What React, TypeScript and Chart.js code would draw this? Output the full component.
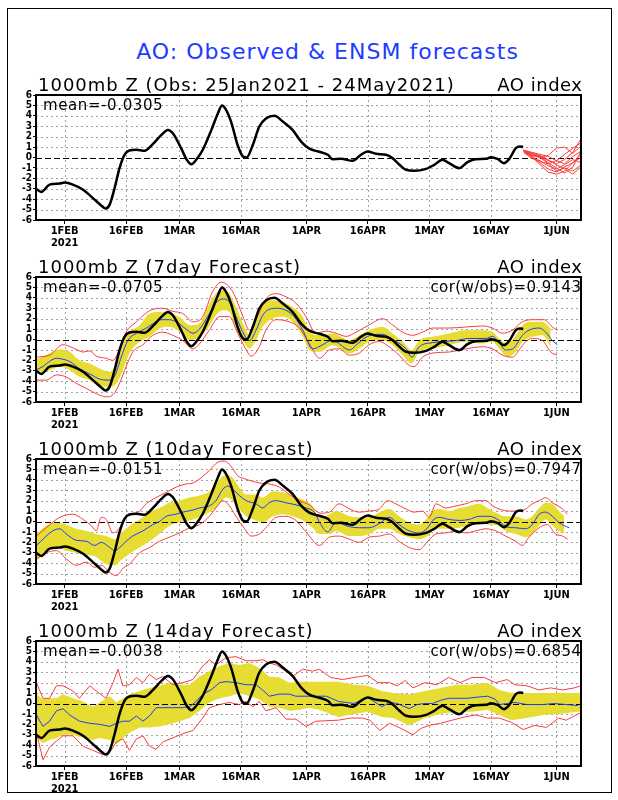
import React, { useEffect, useRef } from "react";
import { Chart, registerables } from "chart.js";
Chart.register(...registerables);

const FONT = "'DejaVu Sans', 'Liberation Sans', sans-serif";
const TICK_FONT = "'DejaVu Sans Condensed', 'Liberation Sans Narrow', 'DejaVu Sans', sans-serif";
const BLUE = "rgb(30,60,255)";
const RED = "rgb(250,60,60)";
const YELLOW = "rgb(230,220,50)";
const GRAY = "rgb(160,160,160)";

// x axis: days since 25 Jan 2021
const xMin = 0;
const xMax = 133;
const xTickDays = [7, 22, 35, 50, 66, 81, 96, 111, 127];
const xTickLabels = ["1FEB", "16FEB", "1MAR", "16MAR", "1APR", "16APR", "1MAY", "16MAY", "1JUN"];
const yearLabel = "2021";

// observed AO
const obsDays = [0, 1.3, 3.3, 5.8, 7, 9, 11.5, 13.9, 15.9, 17, 18, 19.2, 20.4, 21.6, 22.8, 24.5, 26.5, 28.5, 30.6, 32.2, 33.4, 35.4, 36.8, 37.9, 39.1, 40.7, 42.8, 44.4, 45.4, 46.2, 47.6, 49.2, 50.5, 51.4, 52.9, 54.5, 56.2, 58.2, 60.2, 62.6, 64.7, 66.7, 69.1, 71.2, 72.4, 74.4, 77.3, 79.3, 80.9, 83, 85.4, 87, 88.7, 90.3, 92.3, 95.2, 97.2, 99.2, 100.8, 103.3, 105.3, 107.3, 109.8, 111, 112.6, 114.2, 115.5, 117.1, 118.1, 118.9];
const obsVals = [-3.0, -3.3, -2.6, -2.5, -2.4, -2.6, -3.1, -3.9, -4.6, -4.9, -4.5, -2.9, -1.0, 0.26, 0.67, 0.74, 0.64, 1.28, 2.17, 2.65, 2.33, 0.9, -0.22, -0.64, -0.22, 0.74, 2.65, 4.25, 5.0, 4.7, 3.45, 1.2, 0.1, 0.0, 1.2, 2.97, 3.77, 4.0, 3.45, 2.65, 1.53, 0.85, 0.55, 0.26, -0.16, -0.13, -0.32, 0.26, 0.58, 0.35, 0.26, -0.06, -0.7, -1.18, -1.28, -1.09, -0.7, -0.22, -0.54, -1.02, -0.45, -0.16, -0.13, 0.03, -0.13, -0.54, -0.13, 0.9, 1.06, 1.0];

// panel 1 ensemble members (spaghetti)
const spagDays = [119, 121, 123, 125, 127, 129, 131, 133];
const spag1 = [0.7, 0.4, 0.1, -0.3, -0.6, -0.2, 0.5, 1.8];
const spag2 = [0.7, 0.2, 0.0, 0.2, 0.9, 1.0, 0.4, 1.1];
const spag3 = [0.6, 0.0, -0.5, -1.1, -1.4, -0.9, -0.5, 0.3];
const spag4 = [0.6, 0.1, -0.7, -1.4, -1.6, -1.3, -0.5, 0.0];
const spag5 = [0.7, 0.4, 0.2, -0.2, -0.7, -1.1, -1.6, -0.9];
const spag6 = [0.6, 0.2, 0.1, -0.5, -1.0, -1.5, -0.9, 0.6];
const spag7 = [0.7, 0.3, 0.0, -0.6, -0.3, 0.3, 0.9, 1.4];
const spag8 = [0.5, -0.1, -0.3, -0.8, -1.1, -0.7, -0.2, -0.5];
const spag9 = [0.7, 0.5, 0.3, 0.1, -0.3, -0.6, 0.1, 0.6];
const spag10 = [0.6, 0.1, -0.4, -0.6, -1.3, -1.0, -1.3, -0.7];
const spagMembers = [spag1, spag2, spag3, spag4, spag5, spag6, spag7, spag8, spag9, spag10];

// panel 2: 7-day forecast
const p2BandDays = [0.1, 3.3, 5.8, 8.2, 10.6, 13.1, 15.5, 18, 19.6, 21.2, 22.8, 25.3, 27.7, 30.1, 32.6, 35, 37.5, 39.9, 41.9, 43.9, 45.6, 47.2, 48.8, 50.9, 52.1, 53.7, 55.3, 57.8, 60.2, 62.6, 65.1, 66.7, 69.2, 72.4, 76.5, 78.9, 81.3, 84.6, 87, 89.5, 91.7, 93.5, 96.8, 100.8, 104.9, 109, 111.4, 113, 115.1, 117.1, 118.7, 121.1, 123.6, 125.6];
const p2BandHi = [-1.92, -1.34, -0.93, -1.18, -1.98, -2.3, -2.78, -3.1, -2.3, -0.38, 0.74, 1.38, 2.5, 2.65, 2.5, 2.18, 1.38, 1.54, 3.13, 4.41, 4.73, 4.41, 3.13, 1.22, 0.42, 1.86, 3.3, 3.77, 3.61, 3.13, 2.18, 0.74, 0.42, 0.58, -0.06, 0.42, 0.9, 1.22, 0.58, -0.22, -1.02, -0.06, 0.26, 0.58, 0.9, 0.9, 0.74, 0.1, -0.38, 0.42, 1.38, 1.7, 1.7, 1.06];
const p2BandLo = [-3.1, -2.94, -2.62, -2.94, -3.58, -3.9, -4.48, -4.54, -4.22, -2.94, -1.34, -0.22, 0.26, 1.06, 1.22, 0.74, -0.06, 0.26, 1.06, 2.34, 2.82, 2.66, 1.06, -0.38, -0.86, -0.06, 1.22, 2.02, 2.18, 1.7, 0.26, -1.02, -1.18, -0.54, -1.34, -0.86, -0.22, -0.06, -0.54, -1.5, -2.3, -1.18, -0.86, -0.54, -0.22, -0.38, -0.22, -0.86, -1.66, -1.18, -0.22, 0.26, 0.42, -0.7];
const p2MeanDays = [0.1, 1.7, 3.3, 5, 6.6, 8.2, 10.6, 13.1, 15.5, 17.6, 19.2, 20.8, 22.4, 24.5, 26.5, 28.5, 30.5, 32.6, 34.6, 36.6, 38.3, 39.9, 41.9, 43.9, 45.6, 47.2, 48.8, 50.9, 52.1, 53.7, 55.3, 56.9, 59, 61, 63, 65.1, 67.5, 70, 72, 73.2, 76.5, 78.5, 80.9, 84.6, 86.6, 90.3, 91.7, 93.5, 96.8, 99.2, 102.5, 105.7, 109.8, 111.4, 113, 114.6, 116.3, 118.7, 120.3, 122.8, 124.4, 126, 127.2];
const p2Mean = [-2.9, -2.6, -2.1, -1.8, -1.9, -2.1, -2.8, -3.3, -3.8, -3.9, -3.5, -1.7, -0.1, 0.6, 1.0, 1.5, 1.9, 1.9, 1.6, 1.0, 0.6, 1.0, 2.2, 3.5, 3.9, 3.6, 2.2, 0.4, -0.1, 0.9, 2.3, 2.9, 3.0, 2.8, 2.2, 0.9, -0.9, -0.5, -0.1, -0.2, -1.0, -0.4, 0.3, 0.5, 0.1, -0.9, -1.7, -0.7, -0.3, -0.2, -0.1, 0.1, 0.1, 0.3, -0.3, -1.0, -0.9, 0.4, 0.9, 1.1, 0.7, -0.1, -0.5];
const p2MaxDays = [0.1, 3.3, 6.6, 9, 11.5, 13.1, 14.7, 17.1, 18.8, 20.4, 22, 24.5, 28.5, 30.9, 33.4, 35.8, 38.3, 40.7, 43.1, 45.2, 46.8, 48.4, 50.5, 52.1, 53.7, 56.1, 58.6, 61, 63.4, 65.9, 68.3, 70.8, 73.2, 75.7, 78.1, 81.3, 84.6, 87, 89.5, 91.9, 94.3, 96.8, 100.8, 104.9, 109, 111.4, 113.8, 116.3, 118.7, 121.1, 124, 126, 127.2];
const p2Max = [-1.7, -1.5, -0.5, -0.8, -1.2, -1.1, -1.6, -1.8, -2.0, -0.9, 0.7, 1.7, 2.9, 3.0, 2.7, 2.5, 1.7, 2.2, 4.6, 5.5, 5.2, 4.3, 2.2, 0.9, 1.9, 3.9, 4.4, 4.1, 3.5, 2.2, 0.6, 0.8, 0.6, 0.3, 0.7, 1.4, 2.0, 1.4, 0.7, 0.4, 0.7, 1.1, 1.1, 1.2, 1.3, 1.1, 0.6, 0.9, 1.7, 1.9, 1.9, 1.2, 0.9];
const p2MinDays = [0.1, 2.5, 5, 7.4, 9.8, 12.3, 14.7, 17.1, 18.8, 20.4, 22, 23.6, 26.1, 28.5, 30.9, 33.4, 35.8, 38.3, 39.9, 42.3, 44.8, 47.2, 49.2, 51.3, 52.5, 54.5, 56.1, 58.6, 61.8, 64.3, 66.7, 69.2, 71.6, 74, 76.5, 78.9, 81.3, 83.8, 86.2, 88.6, 91.1, 92.3, 94.3, 96.8, 100.8, 104.9, 109, 111.4, 113.8, 116.3, 117.9, 119.5, 121.1, 123.6, 125.6, 127.2];
const p2Min = [-3.9, -3.9, -3.4, -3.6, -4.2, -4.7, -5.2, -5.5, -5.3, -4.2, -2.6, -1.2, -0.5, 0.4, 0.7, 0.4, -0.1, -0.9, -0.4, 0.9, 2.2, 2.2, 0.6, -1.0, -1.6, -0.7, 0.9, 1.9, 1.7, 1.1, -0.4, -1.8, -1.0, -0.9, -1.5, -1.3, -0.5, -0.2, -0.7, -1.5, -2.5, -2.6, -1.7, -1.3, -1.2, -0.9, -0.7, -0.9, -1.5, -1.7, -1.0, -0.2, 0.1, -0.1, -1.2, -1.5];

// panel 3: 10-day forecast
const p3BandDays = [0.1, 2.5, 5, 7.4, 9.8, 12.3, 14.7, 17.1, 19.2, 20.8, 22.8, 25.3, 27.7, 30.1, 32.6, 35, 37.5, 39.9, 42.3, 44.4, 46.4, 48, 49.6, 51.3, 53.7, 55.3, 57.8, 60.2, 62.6, 65.1, 67.5, 69.2, 71.6, 73.2, 76.5, 78.9, 81.3, 83.8, 86.2, 88.6, 91.1, 93.5, 95.6, 96.8, 98.4, 100.8, 103.3, 105.7, 108.1, 110.6, 113, 114.6, 117.1, 119.5, 121.1, 122.8, 124.4, 126, 127.6, 128.9];
const p3BandHi = [-1.2, -0.4, -0.1, -0.3, -0.7, -0.9, -1.2, -1.4, -1.7, -1.1, -0.4, 0.2, 0.9, 1.3, 1.8, 2.0, 2.3, 2.5, 2.9, 3.9, 4.5, 4.2, 3.3, 2.6, 2.6, 2.3, 2.9, 2.8, 2.5, 2.1, 1.5, 0.4, 0.7, 1.0, 0.5, 0.4, 0.4, 0.9, 1.2, 0.5, -0.1, -0.3, 0.4, 1.0, 1.2, 1.0, 1.3, 1.5, 1.7, 1.2, 0.7, 0.5, 0.5, 0.2, 0.5, 1.3, 1.8, 1.7, 1.0, 0.5];
const p3BandLo = [-3.8, -2.8, -2.5, -2.8, -3.0, -3.2, -3.4, -4.1, -4.2, -3.7, -3.1, -2.5, -1.9, -1.2, -0.4, -0.1, 0.1, 0.4, 0.9, 1.5, 2.3, 2.0, 1.2, 0.5, 0.1, -0.1, 0.5, 0.7, 0.5, 0.1, -0.6, -1.2, -1.2, -0.9, -1.4, -1.4, -1.2, -0.7, -0.7, -1.2, -1.5, -1.7, -1.4, -0.9, -0.7, -0.7, -0.6, -0.3, -0.1, -0.3, -0.4, -0.9, -1.2, -1.5, -1.2, -0.4, 0.2, -0.4, -0.9, -1.1];
const p3MeanDays = [0.1, 4.1, 5.8, 7.4, 9.8, 12.3, 14.3, 15.9, 18, 19.2, 20.4, 22, 23.6, 26.1, 28.5, 30.1, 31.8, 34.2, 35.8, 38.3, 39.9, 42.3, 43.9, 45.6, 46.8, 48, 49.6, 51.3, 53.7, 55.3, 56.9, 58.6, 61, 63.4, 65.9, 67.9, 69.5, 71.2, 73.2, 76.5, 78.9, 81.3, 83.8, 86.2, 88.6, 91.1, 93.5, 95.6, 96.8, 98.4, 100.8, 103.3, 105.7, 108.1, 110.6, 113, 114.6, 117.1, 119.5, 121.1, 122.8, 124.4, 126, 127.6, 128.9, 130.1];
const p3Mean = [-2.3, -0.9, -0.7, -1.2, -1.8, -1.9, -2.3, -2.0, -2.5, -2.8, -2.5, -1.9, -1.4, -0.9, -0.3, 0.0, 0.5, 0.7, 0.9, 1.1, 1.3, 1.5, 2.0, 3.1, 3.4, 3.1, 2.5, 2.0, 1.7, 1.3, 1.8, 2.0, 1.8, 1.6, 1.3, 0.9, -0.3, -1.0, -0.1, -0.5, -0.6, -0.6, -0.2, 0.4, -0.3, -0.9, -1.1, -0.6, 0.1, 0.4, 0.2, 0.1, 0.2, 0.5, 0.5, 0.1, -0.5, -0.6, -0.7, -0.3, 0.7, 0.9, 0.5, -0.1, -0.4, -0.6];
const p3MaxDays = [0.1, 2.5, 5.8, 9, 11.5, 13.5, 14.7, 15.9, 17.1, 18.8, 20.4, 22, 23.6, 25.3, 26.9, 29.3, 31.8, 34.2, 36.6, 38.3, 40.3, 42.3, 44.4, 46, 47.6, 49.2, 50.9, 52.5, 54.5, 56.9, 59.4, 61.8, 64.3, 66.7, 69.4, 71.6, 74, 76.5, 78.9, 81.3, 83.8, 85.8, 87.8, 90.3, 92.3, 94.3, 96, 97.6, 100, 102.5, 104.9, 107.3, 109.8, 111.4, 113, 115.5, 117.9, 119.5, 121.1, 122.8, 124.4, 126, 128.5, 129.7];
const p3Max = [-1.4, -0.6, 0.4, 0.7, 0.2, -0.4, -0.9, 0.4, 0.2, -1.1, -0.6, 0.5, 0.7, 1.0, 1.7, 2.3, 2.8, 3.3, 3.6, 3.7, 4.2, 4.9, 5.7, 5.8, 5.3, 4.4, 4.1, 3.9, 3.7, 3.6, 3.3, 2.6, 2.0, 1.6, 0.8, 0.9, 1.7, 1.2, 0.9, 1.0, 1.2, 2.0, 1.7, 1.2, 0.9, 1.0, 0.4, 1.7, 1.3, 1.5, 1.7, 2.0, 2.0, 1.5, 1.2, 1.0, 1.0, 1.2, 1.7, 2.0, 2.3, 1.8, 1.2, 0.7];
const p3MinDays = [0.1, 2.5, 5, 7.4, 9.8, 12.3, 14.3, 15.9, 18, 19.6, 21.2, 22.8, 25.3, 27.7, 30.1, 32.6, 35, 37.5, 39.9, 42.3, 43.9, 45.6, 47.2, 48.8, 50.9, 52.5, 54.5, 56.1, 58.6, 61, 63.4, 65.9, 69.2, 71.6, 74, 76.5, 78.9, 81.3, 83.8, 86.2, 88.6, 91.1, 93.5, 95.6, 97.6, 100, 102.5, 104.9, 107.3, 109.8, 112.2, 114.6, 117.1, 118.7, 120.3, 121.9, 123.6, 124.8, 126.8, 128.5, 129.7];
const p3Min = [-3.6, -3.0, -2.8, -3.6, -4.2, -3.9, -4.4, -4.2, -4.9, -5.2, -4.5, -4.1, -3.0, -2.5, -1.9, -1.5, -1.1, -0.6, -0.3, 0.5, 1.3, 2.0, 1.5, 0.5, -0.7, -1.4, -1.2, -0.6, 0.4, 0.5, 0.1, -1.0, -2.3, -1.5, -1.4, -1.7, -2.0, -1.5, -1.4, -1.2, -1.9, -2.5, -2.7, -1.9, -1.2, -1.1, -0.9, -1.1, -0.9, -0.7, -0.9, -1.4, -1.9, -2.3, -1.5, -0.9, -0.4, -0.3, -1.2, -1.4, -1.7];

// panel 4: 14-day forecast
const p4BandDays = [0.1, 1.7, 3.3, 5, 6.6, 9, 11.5, 13.9, 15.5, 18, 19.6, 21.2, 22.8, 25.3, 27.7, 30.1, 32.6, 35, 37.5, 39.9, 42.3, 44.8, 47.2, 49.6, 52.1, 54.5, 56.9, 59.4, 61.8, 64.3, 66.7, 69.1, 73.8, 77.6, 81, 84.4, 87.2, 91.1, 94.9, 98.7, 102.6, 106.4, 110.2, 113.1, 116, 119.8, 123.7, 127.5, 132.3, 133];
const p4BandHi = [0.9, 0.4, 0.5, 0.5, 0.9, 0.5, 0.2, -0.3, 0.1, 0.7, 0.1, 0.5, 0.9, 1.2, 1.5, 1.7, 2.0, 1.8, 1.8, 2.6, 3.1, 3.6, 3.9, 3.7, 3.9, 3.4, 2.6, 2.5, 2.0, 2.1, 2.1, 2.1, 2.1, 1.8, 1.7, 1.2, 1.0, 0.9, 1.2, 1.5, 1.8, 1.8, 2.0, 1.3, 1.0, 1.0, 1.0, 1.0, 1.0, 1.0];
const p4BandLo = [-3.3, -3.8, -3.5, -3.3, -3.0, -3.0, -3.3, -3.5, -3.3, -3.5, -3.9, -3.3, -2.8, -2.3, -2.3, -2.2, -2.0, -1.7, -1.4, -0.7, 0.1, 0.5, 0.7, 1.0, 0.7, 0.4, -0.3, -0.4, -0.7, -0.6, -0.4, -0.6, -1.3, -1.0, -0.8, -1.3, -1.4, -2.1, -1.4, -1.0, -0.8, -0.8, -0.6, -1.1, -1.6, -1.4, -1.1, -1.0, -0.8, -0.8];
const p4MeanDays = [0.1, 1.7, 3.3, 5, 6.6, 8.2, 10.6, 13.1, 15.5, 18, 19.6, 21.2, 22.8, 24.5, 26.1, 27.7, 29.3, 30.9, 33.4, 35.8, 37.5, 39.1, 40.7, 42.7, 44.8, 46.4, 48.8, 51.3, 53.7, 55.3, 56.9, 59.4, 61.8, 63.4, 65.9, 68.3, 70.9, 73.8, 75.7, 77.6, 81, 82.4, 84.4, 86.3, 88.2, 91.1, 93, 94.9, 96.8, 98.7, 100.7, 103.5, 105.4, 107.4, 110.2, 112.1, 113.1, 115, 116.9, 119.8, 123.7, 126.5, 129.4, 132.3];
const p4Mean = [-1.1, -2.2, -1.7, -0.7, -0.5, -1.1, -1.7, -1.9, -2.0, -2.2, -1.9, -1.7, -1.7, -1.2, -1.7, -1.2, -0.4, -0.4, -0.4, -0.4, -0.3, 0.2, 0.9, 1.3, 2.0, 2.1, 2.0, 1.8, 1.8, 1.3, 0.7, 0.9, 0.9, 0.7, 0.7, 0.7, 0.7, 0.2, 0.1, 0.0, 0.6, 0.2, -0.3, 0.1, 0.0, -0.5, -0.1, 0.0, 0.0, 0.3, 0.5, 0.5, 0.5, 0.6, 0.7, 0.4, -0.1, 0.0, 0.1, -0.1, -0.1, 0.0, -0.1, -0.2];
const p4MaxDays = [0.1, 1.7, 3.3, 5, 6.6, 9, 10.6, 13.1, 14.7, 17.1, 18.8, 20, 21.2, 22.8, 24.5, 26.1, 27.7, 29.3, 30.9, 33.4, 35.8, 38.3, 40.7, 42.3, 43.9, 46.4, 48.8, 51.3, 53.7, 55.3, 56.9, 58.6, 60.2, 62.6, 65.1, 67.5, 69.1, 71.9, 74.8, 77.6, 81, 83.4, 86.3, 88.2, 90.1, 92, 94.9, 97.8, 100.7, 103.5, 106.4, 109.3, 112.2, 115, 116.9, 119.8, 122.7, 125.6, 128.5, 131.4, 133];
const p4Max = [2.0, 0.5, 0.5, 1.7, 1.7, 1.2, 0.5, 1.7, 1.2, 0.5, 2.0, 3.3, 1.7, 1.8, 2.5, 2.0, 2.8, 2.3, 2.6, 1.8, 2.0, 2.3, 3.6, 4.2, 3.7, 4.4, 4.5, 4.1, 4.1, 4.2, 3.9, 3.7, 3.3, 2.6, 3.3, 3.1, 3.3, 2.5, 2.3, 2.5, 2.7, 2.0, 2.0, 1.7, 2.2, 1.5, 2.0, 1.8, 2.5, 2.0, 2.5, 2.5, 2.0, 2.3, 1.8, 1.7, 1.3, 1.5, 1.3, 1.5, 1.7];
const p4MinDays = [0.1, 1.7, 3.3, 5, 6.6, 9, 11.5, 13.9, 16.3, 18, 19.6, 21.2, 22.8, 24.5, 26.1, 27.7, 29.3, 30.9, 33.4, 35.8, 38.3, 40.7, 42.3, 44.8, 47.2, 49.6, 51.3, 52.9, 54.5, 56.1, 58.6, 61, 63.4, 65.9, 68.3, 73.8, 76.7, 79.6, 81.5, 83.9, 86.3, 89.1, 92, 93.9, 95.9, 98.7, 101.6, 104.5, 107.4, 110.2, 113.1, 116, 118.9, 121.7, 124.6, 127.5, 129.4, 132.3, 133];
const p4Min = [-2.8, -5.4, -4.2, -3.6, -3.1, -3.1, -4.1, -4.5, -4.9, -4.7, -3.7, -3.4, -4.5, -3.4, -3.1, -4.1, -4.4, -3.7, -3.3, -2.9, -2.6, -1.4, -0.4, -0.1, 0.1, -0.1, 0.2, -0.3, 0.2, -0.7, -0.4, -1.5, -1.5, -2.2, -1.7, -1.6, -1.4, -1.4, -1.6, -2.6, -1.9, -2.4, -3.0, -2.4, -2.1, -1.9, -1.6, -1.3, -1.1, -1.4, -1.4, -1.8, -2.5, -2.1, -2.3, -1.4, -1.6, -1.0, -0.9];

const pts = (d: number[], v: number[]) => d.map((x, i) => ({ x, y: v[i] }));

function lineDs(data: any[], color: string, width: number, smooth: boolean) {
  return {
    data,
    borderColor: color,
    borderWidth: width,
    pointRadius: 0,
    fill: false,
    tension: 0,
    cubicInterpolationMode: smooth ? "monotone" : "default",
  };
}

function bandDs(days: number[], hi: number[], lo: number[], smooth: boolean) {
  const mode = smooth ? "monotone" : "default";
  return [
    { data: pts(days, hi), borderWidth: 0, borderColor: YELLOW, backgroundColor: YELLOW, pointRadius: 0, fill: "+1", cubicInterpolationMode: mode },
    { data: pts(days, lo), borderWidth: 0, borderColor: YELLOW, pointRadius: 0, fill: false, cubicInterpolationMode: mode },
  ];
}

function drawZero(chart: any) {
  const { ctx, chartArea: a, scales } = chart;
  const py = Math.round(scales.y.getPixelForValue(0)) + 0.5;
  ctx.save();
  ctx.strokeStyle = "#000";
  ctx.lineWidth = 1;
  ctx.setLineDash([6, 3]);
  ctx.beginPath();
  ctx.moveTo(a.left, py);
  ctx.lineTo(a.right, py);
  ctx.stroke();
  ctx.restore();
}

function spacedText(ctx: any, text: string, x: number, y: number, spacing: number, align: string) {
  ctx.letterSpacing = spacing + "px";
  ctx.textAlign = align;
  ctx.fillText(text, align === "right" ? x + spacing : x, y);
  ctx.letterSpacing = "0px";
}

const gradsPlugin = {
  id: "grads",
  beforeDatasetsDraw(chart: any, _args: any, opts: any) {
    const { ctx, chartArea: a, scales } = chart;
    ctx.save();
    ctx.strokeStyle = GRAY;
    ctx.lineWidth = 1;
    ctx.setLineDash([2, 3]);
    ctx.beginPath();
    for (let v = -5; v <= 5; v++) {
      if (v === 0) continue;
      const py = Math.round(scales.y.getPixelForValue(v)) + 0.5;
      ctx.moveTo(a.left, py);
      ctx.lineTo(a.right, py);
    }
    for (const d of xTickDays) {
      const px = Math.round(scales.x.getPixelForValue(d)) + 0.5;
      ctx.moveTo(px, a.top);
      ctx.lineTo(px, a.bottom);
    }
    ctx.stroke();
    ctx.restore();
    if (opts.zeroAfter < 0) drawZero(chart);
  },
  afterDatasetDraw(chart: any, args: any, opts: any) {
    if (args.index === opts.zeroAfter) drawZero(chart);
  },
  afterDatasetsDraw(chart: any, _args: any, opts: any) {
    const { ctx, chartArea: a } = chart;
    ctx.save();
    ctx.strokeStyle = "#000";
    ctx.lineWidth = 2;
    ctx.setLineDash([]);
    ctx.strokeRect(a.left, a.top, a.right - a.left, a.bottom - a.top);
    ctx.fillStyle = "#000";
    ctx.textBaseline = "alphabetic";
    ctx.font = `18px ${FONT}`;
    spacedText(ctx, opts.heading, 38, a.top - 4, 1, "left");
    spacedText(ctx, opts.right, a.right + 1, a.top - 4, 0.5, "right");
    ctx.font = `15px ${FONT}`;
    spacedText(ctx, opts.mean, 43, a.top + 15, 0.6, "left");
    if (opts.cor) spacedText(ctx, opts.cor, a.right, a.top + 15, 0.4, "right");
    ctx.restore();
  },
};

const PAD_TOP = 30;
const PLOT_H = 125;
const X_AXIS_H = 32;
const CANVAS_H = PAD_TOP + PLOT_H + X_AXIS_H;

type PanelProps = { top: number; datasets: any[]; heading: string; mean: string; cor?: string; zeroAfter: number };

function Panel({ top, datasets, heading, mean, cor, zeroAfter }: PanelProps) {
  const ref = useRef<HTMLCanvasElement | null>(null);
  useEffect(() => {
    if (!ref.current) return;
    const chart = new Chart(ref.current, {
      type: "line",
      data: { datasets },
      plugins: [gradsPlugin as any],
      options: {
        animation: false,
        responsive: false,
        devicePixelRatio: 1,
        events: [],
        layout: { padding: { top: PAD_TOP, left: 0, right: 37, bottom: 0 } },
        plugins: {
          legend: { display: false },
          tooltip: { enabled: false },
          grads: { heading, right: "AO index", mean, cor: cor || "", zeroAfter },
        } as any,
        scales: {
          x: {
            type: "linear",
            min: xMin,
            max: xMax,
            border: { display: false },
            grid: { drawOnChartArea: false, drawTicks: true, tickLength: 4, color: "#000", lineWidth: 1 },
            afterBuildTicks: (axis: any) => {
              axis.ticks = xTickDays.map((v) => ({ value: v }));
            },
            afterFit: (axis: any) => {
              axis.height = X_AXIS_H;
            },
            ticks: {
              autoSkip: false,
              maxRotation: 0,
              minRotation: 0,
              padding: 1,
              color: "#000",
              font: { family: TICK_FONT, size: 11, weight: "bold", lineHeight: 1.1 },
              callback: (v: any) => {
                const i = xTickDays.indexOf(Number(v));
                const lab = i >= 0 ? xTickLabels[i] : "";
                return i === 0 ? [lab, yearLabel] : lab;
              },
            },
          },
          y: {
            type: "linear",
            min: -6,
            max: 6,
            border: { display: false },
            grid: { drawOnChartArea: false, drawTicks: true, tickLength: 3, color: "#000", lineWidth: 1 },
            afterFit: (axis: any) => {
              axis.width = 36;
            },
            ticks: {
              stepSize: 1,
              autoSkip: false,
              padding: 1,
              color: "#000",
              font: { family: TICK_FONT, size: 10, weight: "bold" },
              callback: (v: any) => String(v),
            },
          },
        },
      } as any,
    });
    return () => chart.destroy();
  }, []);
  return (
    <canvas
      ref={ref}
      width={618}
      height={CANVAS_H}
      style={{ position: "absolute", left: 0, top: top - PAD_TOP, width: 618, height: CANVAS_H }}
    />
  );
}

const obsLine = () => lineDs(pts(obsDays, obsVals), "#000", 2.5, true);

function panel1Datasets() {
  return [obsLine(), ...spagMembers.map((m) => lineDs(pts(spagDays, m), RED, 1, false))];
}

function ensDatasets(
  mD: number[], m: number[], hD: number[], h: number[], lD: number[], l: number[],
  bD: number[], bH: number[], bL: number[], smooth: boolean
) {
  return [
    obsLine(),
    lineDs(pts(mD, m), BLUE, 1, smooth),
    lineDs(pts(hD, h), RED, 1, smooth),
    lineDs(pts(lD, l), RED, 1, smooth),
    ...bandDs(bD, bH, bL, smooth),
  ];
}

export default function App() {
  return (
    <div style={{ position: "absolute", left: 0, top: 0, width: 618, height: 800, background: "#fff", overflow: "hidden" }}>
      <div style={{ position: "absolute", left: 7, top: 8, width: 605, height: 785, border: "1px solid #000", boxSizing: "border-box" }} />
      <div
        style={{
          position: "absolute", left: 0, top: 38, width: 655, height: 28, lineHeight: "28px",
          textAlign: "center", color: BLUE, fontFamily: FONT, fontSize: 22, letterSpacing: "1px", whiteSpace: "nowrap",
        }}
      >
        AO: Observed &amp; ENSM forecasts
      </div>
      <Panel top={95} datasets={panel1Datasets()} heading="1000mb Z (Obs: 25Jan2021 - 24May2021)" mean="mean=-0.0305" zeroAfter={-1} />
      <Panel
        top={277}
        datasets={ensDatasets(p2MeanDays, p2Mean, p2MaxDays, p2Max, p2MinDays, p2Min, p2BandDays, p2BandHi, p2BandLo, true)}
        heading="1000mb Z (7day Forecast)" mean="mean=-0.0705" cor="cor(w/obs)=0.9143" zeroAfter={4}
      />
      <Panel
        top={459}
        datasets={ensDatasets(p3MeanDays, p3Mean, p3MaxDays, p3Max, p3MinDays, p3Min, p3BandDays, p3BandHi, p3BandLo, true)}
        heading="1000mb Z (10day Forecast)" mean="mean=-0.0151" cor="cor(w/obs)=0.7947" zeroAfter={4}
      />
      <Panel
        top={641}
        datasets={ensDatasets(p4MeanDays, p4Mean, p4MaxDays, p4Max, p4MinDays, p4Min, p4BandDays, p4BandHi, p4BandLo, false)}
        heading="1000mb Z (14day Forecast)" mean="mean=-0.0038" cor="cor(w/obs)=0.6854" zeroAfter={4}
      />
    </div>
  );
}
